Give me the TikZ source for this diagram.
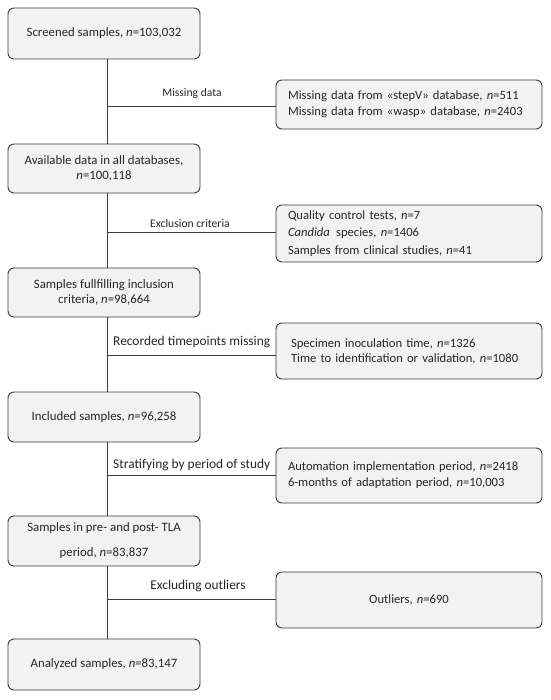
\documentclass[tikz,border=0pt]{standalone}
\usepackage{fontspec}
\setmainfont{Carlito}
\definecolor{boxfill}{HTML}{F2F2F2}
\definecolor{boxline}{HTML}{3A3A3A}
\definecolor{txt}{HTML}{262626}
\begin{document}
\begin{tikzpicture}[x=1pt,y=-1pt,
  lbox/.style={draw=boxline, fill=boxfill, rounded corners=6pt, line width=0.9pt,
    minimum width=192pt, inner sep=2pt, align=center, text=txt,
    font=\fontsize{12.8}{15}\selectfont},
  rbox/.style={draw=boxline, fill=boxfill, rounded corners=6pt, line width=0.9pt,
    inner xsep=12pt, inner ysep=2pt, text width=242pt, align=left, text=txt,
    font=\fontsize{12.6}{16}\selectfont},
  conn/.style={draw=boxline, line width=0.8pt},
  lab/.style={text=txt, inner sep=0pt, font=\fontsize{13.4}{14}\selectfont},
  slab/.style={text=txt, inner sep=0pt, font=\fontsize{11.6}{12}\selectfont}]
\useasboundingbox (0,0) rectangle (550,700);

% left column
\node[lbox, minimum height=51pt] (b1) at (104,33.5) {Screened samples, \textit{n}=103,032};
\node[lbox, minimum height=49pt] (b2) at (104,168.5) {Available data in all databases,\\ \textit{n}=100,118};
\node[lbox, minimum height=49pt] (b3) at (104,292.5) {Samples fullfilling inclusion\\ criteria, \textit{n}=98,664};
\node[lbox, minimum height=50pt] (b4) at (104,417) {Included samples, \textit{n}=96,258};
\node[lbox, minimum height=50pt] (b5) at (104,541) {Samples in pre- and post- TLA\\[10pt] period, \textit{n}=83,837};
\node[lbox, minimum height=51pt] (b6) at (104,664.5) {Analyzed samples, \textit{n}=83,147};

% right column
\node[rbox, minimum height=49pt] (r1) at (409,104.5) {Missing data from «stepV» database, \textit{n}=511\\Missing data from «wasp» database, \textit{n}=2403};
\node[rbox, minimum height=57pt, font=\fontsize{12.6}{17.5}\selectfont] (r2) at (409,233.5) {Quality control tests, \textit{n}=7\\\textit{Candida}\, species, \textit{n}=1406\\Samples from clinical studies, \textit{n}=41};
\node[rbox, minimum height=56pt, font=\fontsize{12.6}{15}\selectfont] (r3) at (409,351) {\hspace*{3pt}Specimen inoculation time, \textit{n}=1326\\\hspace*{3pt}Time to identification or validation, \textit{n}=1080};
\node[rbox, minimum height=55pt] (r4) at (409,475.5) {Automation implementation period, \textit{n}=2418\\6-months of adaptation period, \textit{n}=10,003};
\node[rbox, minimum height=56pt, align=center] (r5) at (409,600) {Outliers, \textit{n}=690};

% trunk
\coordinate (t) at (107,0);
\draw[conn] (b1.south -| t) -- (b2.north -| t);
\draw[conn] (b2.south -| t) -- (b3.north -| t);
\draw[conn] (b3.south -| t) -- (b4.north -| t);
\draw[conn] (b4.south -| t) -- (b5.north -| t);
\draw[conn] (b5.south -| t) -- (b6.north -| t);

% branches
\coordinate (j1) at (107,106);
\coordinate (j2) at (107,232);
\coordinate (j3) at (107,355);
\coordinate (j4) at (107,475);
\coordinate (j5) at (107,599);
\draw[conn] (j1) -- (j1 -| r1.west);
\draw[conn] (j2) -- (j2 -| r2.west);
\draw[conn] (j3) -- (j3 -| r3.west);
\draw[conn] (j4) -- (j4 -| r4.west);
\draw[conn] (j5) -- (j5 -| r5.west);

% labels
\node[slab] (l1) at (192,93) {Missing data};
\node[slab] (l2) at (190,224) {Exclusion criteria};
\node[lab, anchor=west] (l3) at (113,342) {Recorded timepoints missing};
\node[lab, anchor=west] (l4) at (113,465) {Stratifying by period of study};
\node[lab] (l5) at (198,586) {Excluding outliers};
\end{tikzpicture}
\end{document}
